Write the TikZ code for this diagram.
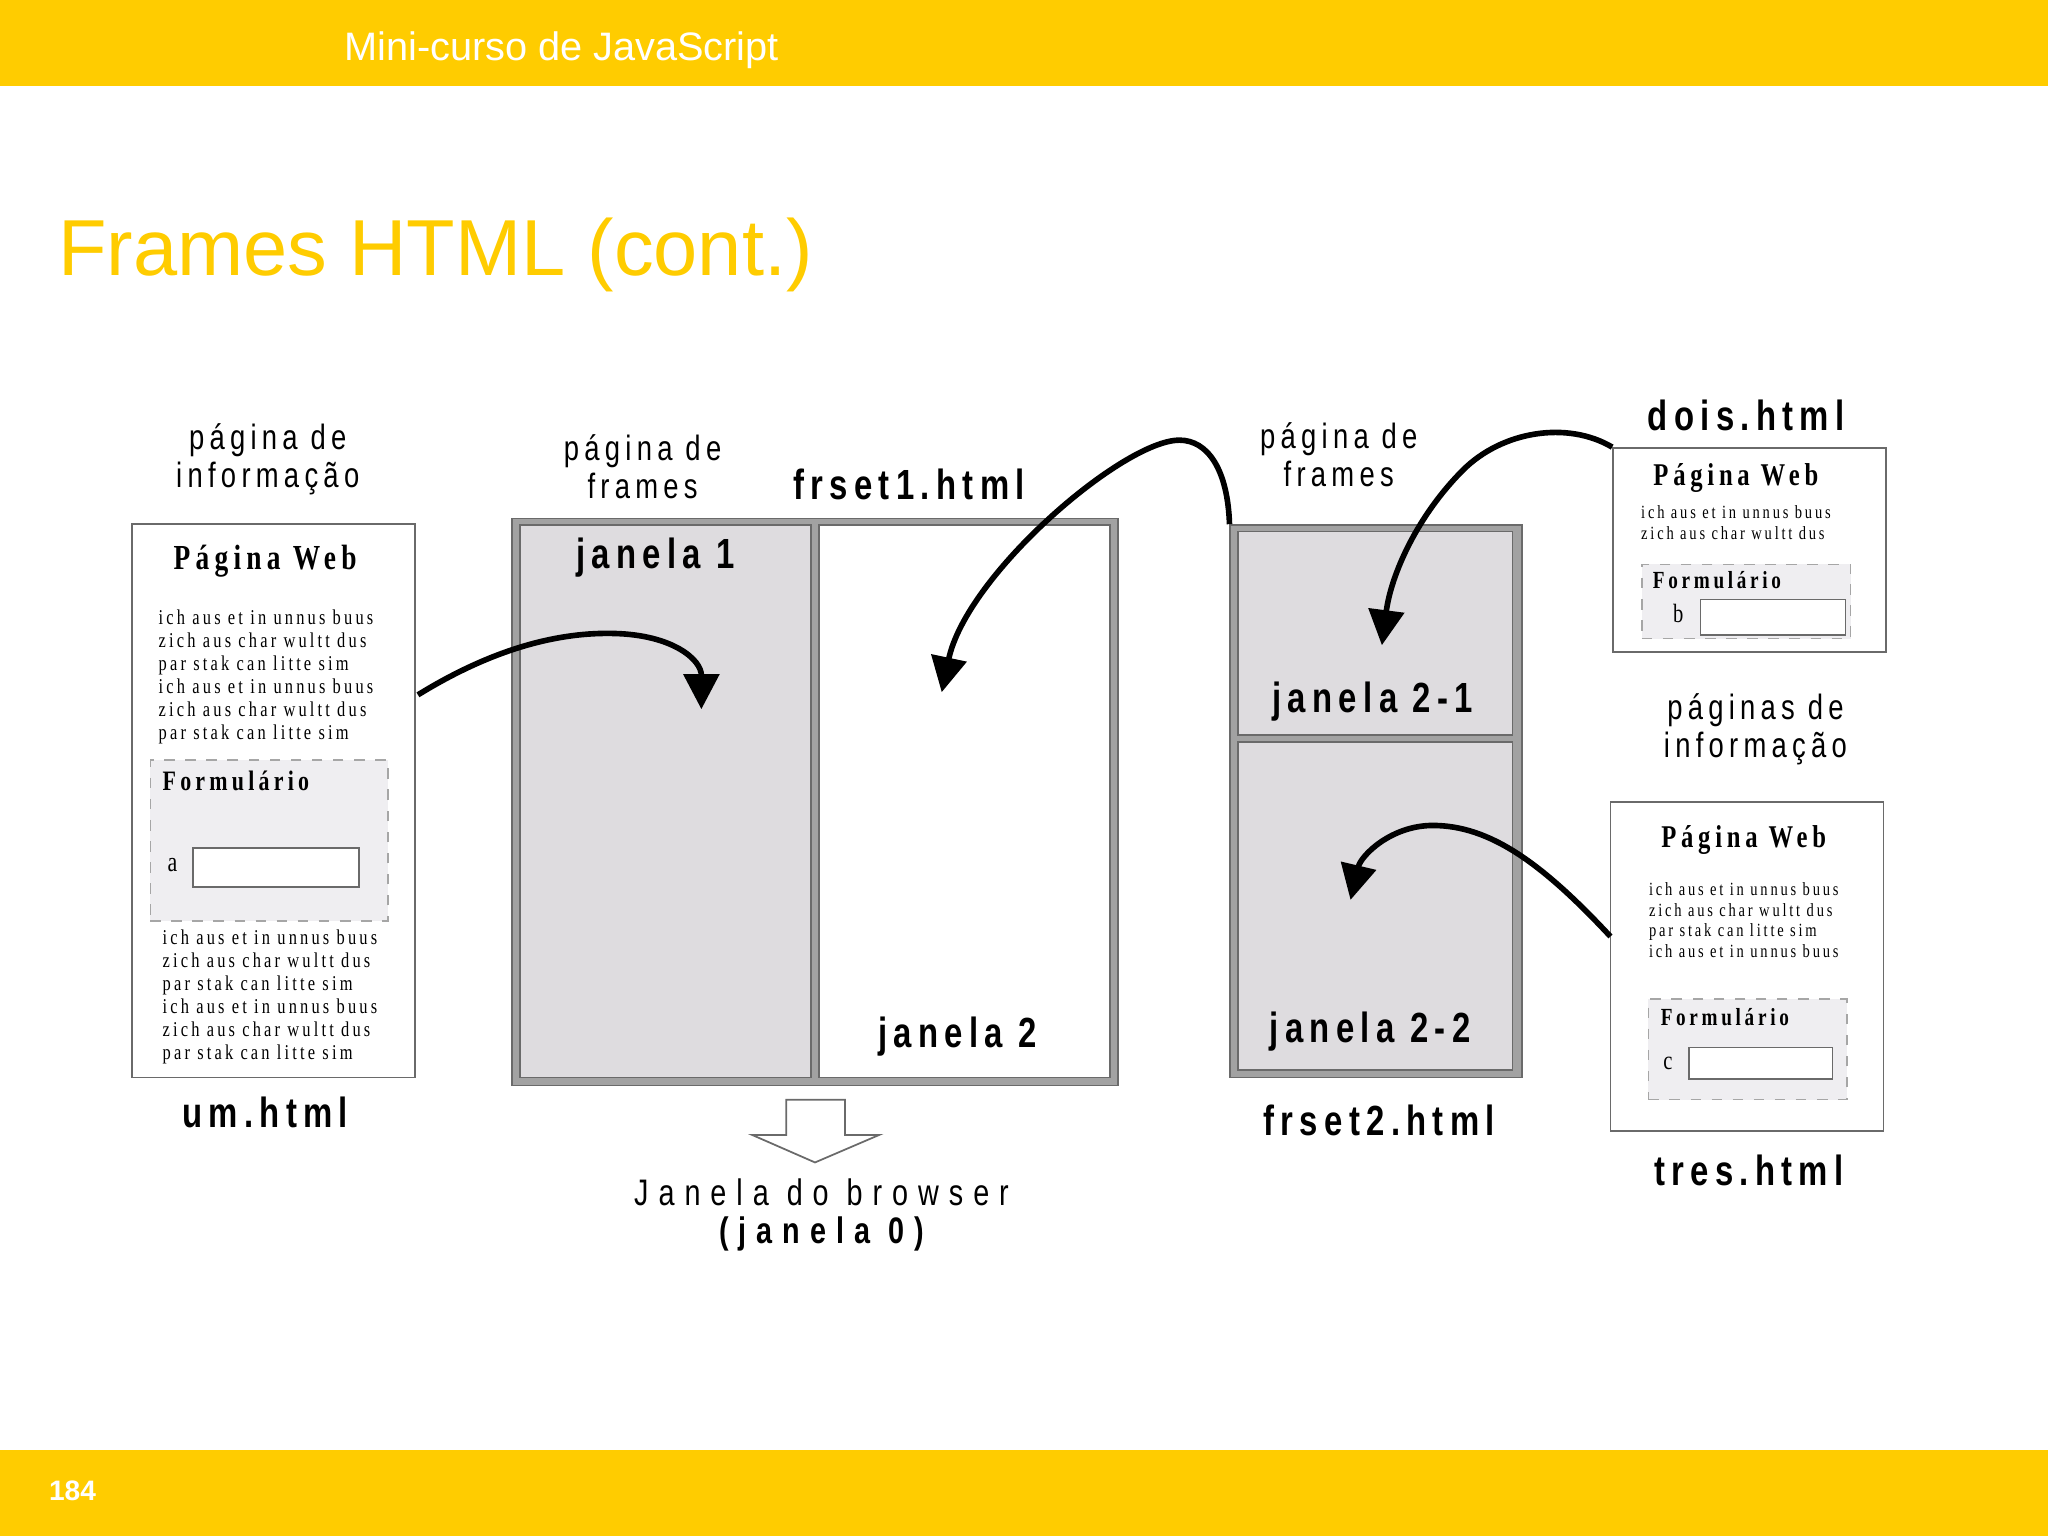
\documentclass[tikz,border=0pt]{standalone}
\usepackage{fontspec}
\setmainfont{Liberation Sans}
\newfontfamily\narrowsans[FakeStretch=0.78,LetterSpace=15]{Liberation Sans}
\newfontfamily\widesans[FakeStretch=0.78,LetterSpace=27]{Liberation Sans}
\newfontfamily\narrowserif[FakeStretch=0.78,LetterSpace=15]{Liberation Serif}
\usetikzlibrary{arrows.meta,fit}

\definecolor{barYellow}{HTML}{FFCC00}
\definecolor{frameGray}{HTML}{A2A2A2}
\definecolor{frameEdge}{HTML}{6A6A6A}
\definecolor{winGray}{HTML}{DEDCDF}
\definecolor{formGray}{HTML}{EFEEF1}

\tikzset{
  box/.style={draw=frameEdge, line width=0.5pt, inner sep=0pt},
  page/.style={box, fill=white},
  frameset/.style={box, fill=frameGray},
  window/.style={box, fill=winGray},
  formbox/.style={draw=gray!70, dashed, line width=0.4pt, fill=formGray, inner sep=0pt},
  field/.style={box, fill=white},
  lbl/.style={font=\narrowsans\fontsize{10}{10.8}\selectfont, align=center, inner sep=0pt},
  fname/.style={font=\narrowsans\bfseries\fontsize{12}{14}\selectfont, inner sep=0pt},
  ptitle/.style={font=\narrowserif\bfseries\fontsize{#1}{12}\selectfont, inner sep=0pt},
  ftitle/.style={font=\narrowserif\bfseries\fontsize{#1}{10}\selectfont, inner sep=0pt, anchor=west},
  body/.style={font=\narrowserif\fontsize{#1}{6.55}\selectfont, align=left, inner sep=0pt, anchor=west},
  smallbody/.style={font=\narrowserif\fontsize{#1}{5.9}\selectfont, align=left, inner sep=0pt, anchor=west},
  letter/.style={font=\narrowserif\fontsize{#1}{9}\selectfont, inner sep=0pt},
  link/.style={line width=1.6pt, -{Triangle[length=10pt,width=10pt]}},
}

\begin{document}
\begin{tikzpicture}[x=0.0130612cm, y=-0.0130612cm]
\useasboundingbox (0,0) rectangle (1568,1176);

\fill[barYellow] (0,0) rectangle (1568,66);
\fill[barYellow] (0,1110) rectangle (1568,1176);
\node[anchor=base west, inner sep=0pt, text=white, font=\fontsize{11.3}{13}\selectfont] (course) at (263,46) {Mini-curso de JavaScript};
\node[anchor=base west, inner sep=0pt, text=barYellow, font=\fontsize{22.6}{27}\selectfont] (title) at (44,211) {Frames HTML (cont.)};
\node[anchor=base west, inner sep=0pt, text=white, font=\bfseries\fontsize{8}{10}\selectfont] (pagenum) at (37,1149) {184};

% um.html
\node[lbl] (umlbl) at (205,352) {página de\\informação};
\node[page, fit={(101,401) (318,825)}] (um) {};
\node[ptitle=10] (umtitle) at (203,430) {Página Web};
\node[body=6] (umtxt) at (121,518) {ich aus et in unnus buus\\zich aus char wultt dus\\par stak can litte sim\\ich aus et in unnus buus\\zich aus char wultt dus\\par stak can litte sim};
\node[formbox, fit={(115,582) (297,705)}] (forma) {};
\node[ftitle=8] (formatitle) at (124,598) {Formulário};
\node[letter=8] (la) at (132,662) {a};
\node[field, fit={(148,649) (275,679)}] (fielda) {};
\node[body=6] (umtxt2) at (124,763.5) {ich aus et in unnus buus\\zich aus char wultt dus\\par stak can litte sim\\ich aus et in unnus buus\\zich aus char wultt dus\\par stak can litte sim};
\node[fname] (umname) at (203,852) {um.html};

% frset1.html
\node[lbl] (fs1lbl) at (492,357) {página de\\frames};
\node[fname] (fs1name) at (696,371) {frset1.html};
\node[frameset, fit={(392,397) (856,831)}] (fs1) {};
\node[window, fit={(398,402) (621,825)}] (j1) {};
\node[page, fit={(627,402) (850,825)}] (j2) {};
\node[fname] (j1name) at (502,427) {janela 1};
\node[fname] (j2name) at (733,794) {janela 2};

\draw[draw=frameEdge, fill=white, line width=0.5pt] (602,842) -- (647,842) -- (647,869) -- (673,869)
  -- (624,890) -- (576,869) -- (602,869) -- cycle;
\node[font=\widesans\fontsize{10.5}{12}\selectfont, inner sep=0pt] (browser) at (629,913) {Janela do browser};
\node[font=\widesans\bfseries\fontsize{10.5}{12}\selectfont, inner sep=0pt] (j0) at (629,945) {(janela 0)};

% frset2.html
\node[lbl] (fs2lbl) at (1025,348) {página de\\frames};
\node[frameset, fit={(942,402) (1165,825)}] (fs2) {};
\node[window, fit={(948,407) (1158,563)}] (j21) {};
\node[window, fit={(948,568) (1158,819)}] (j22) {};
\node[fname] (j21name) at (1051,537) {janela 2-1};
\node[fname] (j22name) at (1049,790) {janela 2-2};
\node[fname] (fs2name) at (1056,858) {frset2.html};

% dois.html
\node[fname] (doisname) at (1337,318) {dois.html};
\node[page, fit={(1235,343) (1444,499)}] (dois) {};
\node[ptitle=9] (doistitle) at (1329,366) {Página Web};
\node[smallbody=5.3] (doistxt) at (1256,400) {ich aus et in unnus buus\\zich aus char wultt dus};
\node[formbox, fit={(1257,432) (1417,489)}] (formb) {};
\node[ftitle=7] (formbtitle) at (1265,444) {Formulário};
\node[letter=7.5] (lb) at (1285,470) {b};
\node[field, fit={(1302,459) (1413,486)}] (fieldb) {};

% tres.html
\node[lbl] (treslbl) at (1344,558) {páginas de\\informação};
\node[page, fit={(1233,614) (1442,866)}] (tres) {};
\node[ptitle=9] (trestitle) at (1335,643) {Página Web};
\node[smallbody=5.3] (trestxt) at (1262,704.5) {ich aus et in unnus buus\\zich aus char wultt dus\\par stak can litte sim\\ich aus et in unnus buus};
\node[formbox, fit={(1262,765) (1414,842)}] (formc) {};
\node[ftitle=7] (formctitle) at (1271,779) {Formulário};
\node[letter=7.5] (lc) at (1277,814) {c};
\node[field, fit={(1293,802) (1403,826)}] (fieldc) {};
\node[fname] (tresname) at (1339,896) {tres.html};

% links
\coordinate (out1) at (320,532);
\coordinate (in1) at (537,543);
\coordinate (in2) at (721,530);
\coordinate (in3) at (1058,494);
\coordinate (out4) at (1233,717);
\coordinate (in4) at (1034,689);
\draw[link] (out1) .. controls (380,495) and (430,484) .. (470,485)
  .. controls (515,486) and (537,505) .. (in1);
\draw[link] (fs2.north west) .. controls (940,360) and (925,337) .. (903,337)
  .. controls (860,337) and (740,440) .. (in2);
\draw[link] (dois.north west) .. controls (1200,322) and (1150,330) .. (1120,360)
  .. controls (1085,395) and (1065,440) .. (in3);
\draw[link] (out4) .. controls (1180,660) and (1140,632) .. (1097,632)
  .. controls (1065,632) and (1042,655) .. (in4);
\end{tikzpicture}
\end{document}
